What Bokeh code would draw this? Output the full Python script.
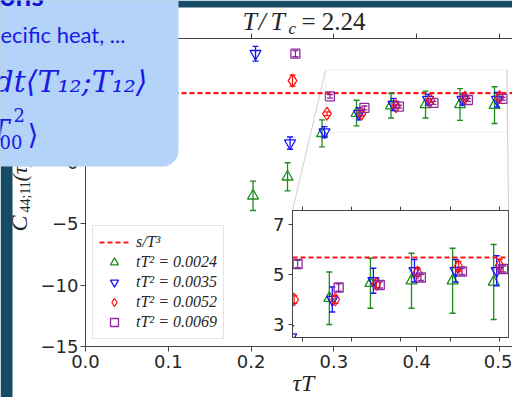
import numpy as np
from bokeh.plotting import figure
from bokeh.models import (ColumnDataSource, Range1d, FixedTicker, Span, Legend,
                          LegendItem, BoxAnnotation, Label, LinearAxis, NumeralTickFormatter)
from bokeh.embed import file_html
from bokeh.resources import INLINE

# ---------------- data ----------------
tauT = [5/24, 6/24, 7/24, 8/24, 9/24, 10/24, 11/24, 12/24]
s_over_T3 = 5.68

g_tau = tauT
g_val = [-2.7, -1.15, 2.4, 4.05, 4.65, 4.75, 4.75, 4.7]
g_err = [1.2, 1.15, 1.1, 1.05, 1.0, 1.1, 1.3, 1.5]

b_tau = tauT
b_val = [8.9, 1.6, 2.5, 4.0, 4.75, 5.15, 5.15, 5.15]
b_err = [0.6, 0.5, 0.45, 0.5, 0.5, 0.45, 0.45, 0.6]

r_tau = tauT[1:]
r_val = [6.7, 4.0, 4.0, 4.62, 5.08, 5.32, 5.36]
r_err = [0.45, 0.15, 0.15, 0.15, 0.15, 0.2, 0.25]

m_tau = tauT[1:]
m_val = [8.9, 5.42, 4.48, 4.58, 4.88, 5.12, 5.22]
m_err = [0.25, 0.15, 0.15, 0.12, 0.12, 0.12, 0.12]

series_labels = ["tT² = 0.0024", "tT² = 0.0035", "tT² = 0.0052", "tT² = 0.0069"]
series_shift = [-0.006, -0.003, 0.0, 0.0035]

x_ticks = [0.0, 0.1, 0.2, 0.3, 0.4, 0.5]
y_ticks = [-15, -10, -5, 0, 5, 10]
inset_x_ticks = [0.3, 0.35, 0.4, 0.45, 0.5]
inset_y_ticks = [3, 5, 7]

x_main = (0.0, 0.5157)
y_main = (-15.0, 10.14)
x_inset = (0.29, 0.509)
y_inset = (2.48, 7.56)

# ---------------- styles / layout ----------------
W, H = 512, 397
FL, FR, FT, FB = 85, 512, 38, 346
IL, IR, IT, IB = 292, 508, 210, 337
IPAD = 30
ILEFT, ITOP = IL - IPAD, IT - IPAD

colors = ["#1f8c1f", "#1414ff", "#ff1414", "#8e2a9c"]
markers = ["triangle", "inverted_triangle", "diamond", "square"]
msizes = [11, 11, 13, 9]
AX = "#444444"
TXT = "#262626"
SERIF = "Liberation Serif"
SANS = "DejaVu Sans"


def make_src(tau, val, err, shift):
    return ColumnDataSource(dict(
        x=[t + shift for t in tau], y=val,
        lo=[v - e for v, e in zip(val, err)],
        hi=[v + e for v, e in zip(val, err)]))


sources = [make_src(g_tau, g_val, g_err, series_shift[0]),
           make_src(b_tau, b_val, b_err, series_shift[1]),
           make_src(r_tau, r_val, r_err, series_shift[2]),
           make_src(m_tau, m_val, m_err, series_shift[3])]


def draw_series(fig, src, color, marker, size):
    fig.segment(x0="x", y0="lo", x1="x", y1="hi", source=src,
                line_color=color, line_width=1.3)
    fig.scatter(x="x", y="lo", source=src, marker="dash", size=6,
                line_color=color, line_width=1.3)
    fig.scatter(x="x", y="hi", source=src, marker="dash", size=6,
                line_color=color, line_width=1.3)
    return fig.scatter(x="x", y="y", source=src, marker=marker, size=size,
                       fill_color=None, line_color=color, line_width=1.3)


def style_axis(ax, ticks, size="18px", labels=True):
    ax.ticker = FixedTicker(ticks=ticks)
    ax.minor_tick_line_color = None
    ax.major_tick_in = 0
    ax.major_tick_out = 5
    ax.axis_line_color = AX
    ax.major_tick_line_color = AX
    ax.major_label_text_font = SANS
    ax.major_label_text_color = TXT
    ax.major_label_text_font_size = size
    ax.major_label_standoff = 3
    if not labels:
        ax.major_label_overrides = {t: "" for t in ticks}
        ax.major_label_standoff = 0


# ---------------- main figure ----------------
p = figure(width=W, height=H, x_range=Range1d(*x_main), y_range=Range1d(*y_main),
           output_backend="svg", toolbar_location=None,
           x_axis_location=None, y_axis_location=None,
           min_border_left=FL, min_border_right=W - FR,
           min_border_top=FT, min_border_bottom=H - FB,
           background_fill_color="white", border_fill_color="white",
           outline_line_color=None)
p.xgrid.visible = False
p.ygrid.visible = False
p.styles = {"position": "absolute", "left": "0px", "top": "0px"}

xb = LinearAxis()
style_axis(xb, x_ticks)
xb.formatter = NumeralTickFormatter(format="0.0")
p.add_layout(xb, "below")
xa = LinearAxis()
style_axis(xa, x_ticks, labels=False)
p.add_layout(xa, "above")
yl = LinearAxis()
style_axis(yl, y_ticks)
yl.major_label_standoff = 2
yl.major_label_overrides = {t: (str(t).replace("-", "\u2212")) for t in y_ticks}
p.add_layout(yl, "left")

# zoom rectangle and connectors
p.add_layout(BoxAnnotation(left=x_inset[0], right=x_inset[1], bottom=y_inset[0], top=y_inset[1],
                           fill_color=None, line_color="#cfcfcf", line_width=1))


def px2x(px):
    return x_main[0] + (px - FL) / (FR - FL) * (x_main[1] - x_main[0])


def py2y(py):
    return y_main[1] - (py - FT) / (FB - FT) * (y_main[1] - y_main[0])


p.segment(x0=[x_inset[0], x_inset[1]], y0=[y_inset[1], y_inset[1]],
          x1=[px2x(IL), px2x(IR)], y1=[py2y(IT), py2y(IT)],
          line_color="#cfcfcf", line_width=1)

sline = p.line(x=list(x_main), y=[s_over_T3, s_over_T3], line_color="#ff1414",
               line_width=2.2, line_dash="5 3")

legend_renderers = []
for src, c, m, s in zip(sources, colors, markers, msizes):
    legend_renderers.append(draw_series(p, src, c, m, s))

items = [LegendItem(label="s/T³", renderers=[sline])]
for lab, r in zip(series_labels, legend_renderers):
    items.append(LegendItem(label=lab, renderers=[r]))
legend = Legend(items=items, location=(7, 7), margin=0, padding=6, spacing=0,
                glyph_width=30, glyph_height=20, label_height=20, label_standoff=7,
                label_text_font=SERIF, label_text_font_style="italic",
                label_text_font_size="16px", label_text_color=TXT,
                border_line_color="#cccccc", border_line_width=1,
                background_fill_color="white", background_fill_alpha=0.85)
p.add_layout(legend)

# ---------------- inset figure ----------------
ins = figure(width=W - ILEFT, height=IB + IPAD - ITOP,
             x_range=Range1d(*x_inset), y_range=Range1d(*y_inset),
             output_backend="svg", toolbar_location=None,
             x_axis_location=None, y_axis_location=None,
             min_border_left=IPAD, min_border_right=W - IR,
             min_border_top=IPAD, min_border_bottom=IPAD,
             background_fill_color="white", border_fill_color=None,
             outline_line_color="#555555")
ins.xgrid.visible = False
ins.ygrid.visible = False
ins.styles = {"position": "absolute", "left": f"{ILEFT}px", "top": f"{ITOP}px"}
ib = LinearAxis()
style_axis(ib, inset_x_ticks, size="1px", labels=False)
ib.major_tick_out = 4
ins.add_layout(ib, "below")
ia = LinearAxis()
style_axis(ia, inset_x_ticks, size="1px", labels=False)
ia.major_tick_out = 4
ins.add_layout(ia, "above")
il = LinearAxis()
style_axis(il, inset_y_ticks)
il.major_tick_out = 4
il.major_label_standoff = 4
ins.add_layout(il, "left")

ins.add_layout(Span(location=s_over_T3, dimension="width", line_color="#ff1414",
                    line_width=2.2, line_dash="5 3"))
for src, c, m, s in zip(sources, colors, markers, msizes):
    draw_series(ins, src, c, m, s)

# ---------------- overlay figure (texts + slide decoration) ----------------
ov = figure(width=W, height=H, x_range=Range1d(0, W), y_range=Range1d(H, 0),
            output_backend="svg", toolbar_location=None,
            x_axis_location=None, y_axis_location=None, min_border=0,
            background_fill_color=None, border_fill_color=None, outline_line_color=None)
ov.xgrid.visible = False
ov.ygrid.visible = False
ov.styles = {"position": "absolute", "left": "0px", "top": "0px"}


def canvas_label(x, base, text, fs, font=SERIF, style="normal", color=TXT,
                 align="left", rotated=False):
    # labels are anchored at their vertical middle: shift from the wanted baseline
    shift = 0.35 * fs
    if rotated:
        x, y, angle = x - shift, base, np.pi / 2
    else:
        x, y, angle = x, base - shift, 0.0
    ov.add_layout(Label(x=x, y=y, x_units="canvas", y_units="canvas", text=text,
                        text_font=font, text_font_size=f"{fs}px", text_font_style=style,
                        text_color=color, text_align=align, text_baseline="middle",
                        angle=angle, angle_units="rad"))


def canvas_box(l, r, t, b, color, radius=0):
    ov.add_layout(BoxAnnotation(left=l, right=r, top=t, bottom=b,
                                left_units="canvas", right_units="canvas",
                                top_units="canvas", bottom_units="canvas",
                                fill_color=color, fill_alpha=1, line_color=None,
                                border_radius=radius))


# title  T/T_c = 2.24
canvas_label(242, 30, "T", 26, style="italic")
canvas_label(258, 30, "/", 26, style="italic")
canvas_label(270, 30, "T", 26, style="italic")
canvas_label(288, 34, "c", 17, style="italic")
canvas_label(301, 30, "= 2.24", 25)

# x label
canvas_label(303, 391, "τT", 24, style="italic", align="center")

# y label (rotated)
canvas_label(27, 231, "C", 24, style="italic", rotated=True)
canvas_label(30, 212, "44;11", 14, rotated=True)
canvas_label(27, 181, "(τ)/T⁵", 22, style="italic", rotated=True)

# slide decoration: dark strips
canvas_box(0, 12, 0, H, "#164b67")
canvas_box(0, W, 0, 7, "#164b67")

# light-blue callout box
canvas_box(-40, 178, -40, 166, "#b3d3f9", radius=16)
BLUE = "#1a1ae6"
canvas_label(-1, 4, "ons", 28, font="Lato", style="bold", color="#1010cc")
canvas_label(0, 42, "ecific heat, ...", 22, font="Lato", color=BLUE)
canvas_label(-6, 91, "dt⟨T₁₂;T₁₂⟩", 30, font="DejaVu Serif", style="italic", color=BLUE)
canvas_label(9, 140, "⟨T", 28, font="DejaVu Serif", style="italic", color=BLUE, align="right")
canvas_label(13, 121, "2", 18, font="DejaVu Serif", color=BLUE)
canvas_label(-1, 148, "00", 18, font="DejaVu Serif", color=BLUE)
canvas_label(27, 144, "⟩", 28, font="DejaVu Serif", color=BLUE)

open("out.html", "w").write(file_html((p, ins, ov), INLINE))
